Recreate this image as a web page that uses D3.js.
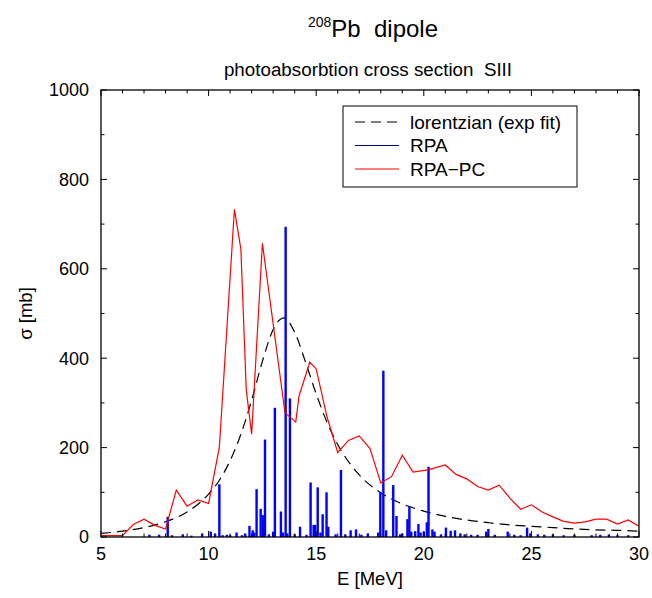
<!DOCTYPE html>
<html>
<head>
<meta charset="utf-8">
<script src="https://cdn.jsdelivr.net/npm/d3@7"></script>
<style>
  html, body { margin: 0; padding: 0; background: #fff; }
  svg { display: block; font-family: "Liberation Sans", Arial, Helvetica, sans-serif; }
</style>
</head>
<body>
<svg id="chart" width="652" height="598"></svg>
<script>
// Lorentzian fit to the strength distribution (mb)
const lorE = [5, 6, 7, 8, 9, 10, 10.5, 11, 11.5, 12, 12.5, 13, 13.5, 14, 14.5, 15, 15.5, 16, 17, 18, 19, 20, 21, 22, 23, 24, 25, 26, 27, 28, 29, 30];
const lorSigma = [8, 13, 21, 34, 56, 96, 127, 171, 230, 306, 393, 464, 490, 458, 392, 320, 257, 207, 139, 99, 74, 58, 46, 38, 32, 27, 24, 21, 18, 16, 15, 13];

// RPA discrete states: energy (MeV) and strength (mb)
const rpaE = [7.25, 7.7, 8.1, 8.3, 8.8, 9.2, 9.7, 10.1, 10.3, 10.5, 10.65, 10.85, 11.0, 11.3, 11.55, 11.7, 11.9, 12.05, 12.12, 12.23, 12.42, 12.52, 12.62, 12.8, 13.0, 13.08, 13.36, 13.45, 13.58, 13.66, 13.78, 14.0, 14.25, 14.55, 14.74, 14.88, 14.95, 15.07, 15.2, 15.3, 15.48, 15.56, 15.9, 16.15, 16.35, 16.6, 16.85, 17.1, 17.4, 17.88, 17.98, 18.12, 18.25, 18.58, 18.73, 18.9, 19.0, 19.24, 19.33, 19.42, 19.6, 19.75, 19.85, 20.0, 20.14, 20.22, 20.4, 20.5, 20.8, 21.03, 21.25, 21.45, 21.7, 21.9, 22.2, 22.5, 22.9, 23.0, 23.3, 23.9, 24.2, 24.5, 24.8, 24.95, 25.3, 25.6, 26.0, 26.5, 27.0, 27.8, 28.2, 28.6, 29.0, 29.5];
const rpaSigma = [5, 5, 45, 4, 6, 3, 8, 12, 8, 118, 4, 5, 4, 10, 4, 8, 25, 15, 10, 107, 63, 49, 218, 6, 12, 289, 57, 10, 694, 8, 310, 6, 23, 5, 122, 27, 27, 111, 10, 51, 100, 23, 6, 150, 6, 15, 17, 5, 8, 10, 100, 372, 15, 116, 47, 6, 8, 40, 69, 12, 13, 29, 10, 12, 33, 157, 17, 12, 6, 21, 14, 15, 8, 6, 5, 5, 12, 18, 5, 12, 5, 4, 21, 8, 6, 5, 6, 4, 5, 4, 5, 6, 4, 4];

// RPA with particle-phonon coupling (mb)
const pcE = [5, 6, 6.5, 7, 7.5, 8, 8.5, 9, 9.5, 10, 10.5, 11.2, 11.5, 11.75, 12.0, 12.5, 13.55, 14.05, 14.2, 14.7, 15.0, 15.5, 16.0, 16.5, 17.0, 17.5, 18.0, 18.5, 19.0, 19.5, 20.2, 21.0, 21.5, 22.0, 22.5, 23.0, 23.5, 24.0, 24.5, 25.0, 25.5, 26.0, 26.5, 27.0, 27.5, 28.0, 28.5, 29.0, 29.5, 30.0];
const pcSigma = [3, 3, 28, 40, 26, 18, 105, 69, 83, 75, 201, 733, 644, 329, 230, 657, 278, 257, 315, 391, 376, 269, 189, 216, 226, 198, 121, 135, 183, 145, 150, 161, 140, 130, 113, 105, 116, 87, 62, 72, 56, 45, 35, 31, 34, 40, 40, 29, 38, 24];

const xTickLabels = [5, 10, 15, 20, 25, 30];
const yTickLabels = [0, 200, 400, 600, 800, 1000];
const legendLabels = ["lorentzian (exp fit)", "RPA", "RPA\u2212PC"];

(function draw() {
  const svg = d3.select("#chart");
  const m = { left: 101, right: 639, top: 90, bottom: 537 };

  const x = d3.scaleLinear().domain([5, 30]).range([m.left, m.right]);
  const y = d3.scaleLinear().domain([0, 1000]).range([m.bottom, m.top]);

  svg.append("defs").append("clipPath").attr("id", "plotClip")
    .append("rect").attr("x", m.left).attr("y", m.top)
    .attr("width", m.right - m.left).attr("height", m.bottom - m.top);

  const plot = svg.append("g").attr("clip-path", "url(#plotClip)");

  // Lorentzian fit (dashed)
  const lorPts = lorE.map((e, i) => [e, lorSigma[i]]);
  plot.append("path")
    .attr("d", d3.line().x(d => x(d[0])).y(d => y(d[1])).curve(d3.curveMonotoneX)(lorPts))
    .attr("fill", "none").attr("stroke", "#000").attr("stroke-width", 1.2)
    .attr("stroke-dasharray", "10,6");

  // RPA strength bars
  plot.selectAll("rect.rpa")
    .data(rpaE.map((e, i) => [e, rpaSigma[i]]))
    .join("rect").attr("class", "rpa")
    .attr("x", d => x(d[0]) - 1.2)
    .attr("width", 2.4)
    .attr("y", d => y(d[1]))
    .attr("height", d => y(0) - y(d[1]))
    .attr("fill", "#0000ff");

  // RPA-PC curve
  const pcPts = pcE.map((e, i) => [e, pcSigma[i]]);
  plot.append("path")
    .attr("d", d3.line().x(d => x(d[0])).y(d => y(d[1]))(pcPts))
    .attr("fill", "none").attr("stroke", "#ff0000").attr("stroke-width", 1.2);

  // Frame
  svg.append("rect").attr("x", m.left).attr("y", m.top)
    .attr("width", m.right - m.left).attr("height", m.bottom - m.top)
    .attr("fill", "none").attr("stroke", "#000").attr("stroke-width", 1.3);

  // Inward ticks on all four sides
  const ticks = svg.append("g").attr("stroke", "#000").attr("stroke-width", 1);
  d3.range(5, 30.001, 1).forEach(e => {
    const len = (e % 5 === 0) ? 6 : 3.5;
    ticks.append("line").attr("x1", x(e)).attr("x2", x(e)).attr("y1", m.bottom).attr("y2", m.bottom - len);
    ticks.append("line").attr("x1", x(e)).attr("x2", x(e)).attr("y1", m.top).attr("y2", m.top + len);
  });
  d3.range(0, 1000.001, 100).forEach(v => {
    const len = (v % 200 === 0) ? 6 : 3.5;
    ticks.append("line").attr("x1", m.left).attr("x2", m.left + len).attr("y1", y(v)).attr("y2", y(v));
    ticks.append("line").attr("x1", m.right).attr("x2", m.right - len).attr("y1", y(v)).attr("y2", y(v));
  });

  // Tick labels
  svg.append("g").selectAll("text").data(xTickLabels).join("text")
    .attr("x", d => x(d)).attr("y", 560)
    .attr("text-anchor", "middle").attr("font-size", 18).attr("fill", "#000")
    .text(d => d);
  svg.append("g").selectAll("text").data(yTickLabels).join("text")
    .attr("x", 89).attr("y", d => y(d)).attr("dy", "0.35em")
    .attr("text-anchor", "end").attr("font-size", 18).attr("fill", "#000")
    .text(d => d);

  // Axis titles
  svg.append("text").attr("x", (m.left + m.right) / 2).attr("y", 585)
    .attr("text-anchor", "middle").attr("font-size", 18.5).text("E [MeV]");
  svg.append("text")
    .attr("transform", `translate(32,${(m.top + m.bottom) / 2}) rotate(-90)`)
    .attr("text-anchor", "middle").attr("font-size", 18.5).text("\u03c3 [mb]");

  // Titles
  const title = svg.append("text").attr("x", 373).attr("y", 37)
    .attr("text-anchor", "middle").attr("font-size", 24);
  title.append("tspan").attr("font-size", 14).attr("dy", -10).text("208");
  title.append("tspan").attr("dy", 10).text("Pb\u00a0\u00a0dipole");

  svg.append("text").attr("x", 368).attr("y", 76)
    .attr("text-anchor", "middle").attr("font-size", 18.8)
    .text("photoabsorbtion cross section\u00a0\u00a0SIII");

  // Legend
  const lg = svg.append("g");
  lg.append("rect").attr("x", 343).attr("y", 106).attr("width", 234).attr("height", 81)
    .attr("fill", "#fff").attr("stroke", "#000").attr("stroke-width", 1);
  const legStyles = [
    { stroke: "#000", dash: "10,6" },
    { stroke: "#00008b", dash: null },
    { stroke: "#ff0000", dash: null }
  ];
  legendLabels.forEach((lab, i) => {
    const yy = 122 + i * 23.5;
    lg.append("line").attr("x1", 355).attr("x2", 399).attr("y1", yy).attr("y2", yy)
      .attr("stroke", legStyles[i].stroke).attr("stroke-width", 1)
      .attr("stroke-dasharray", legStyles[i].dash);
    lg.append("text").attr("x", 410).attr("y", yy).attr("dy", "0.35em")
      .attr("font-size", 19).text(lab);
  });
})();
</script>
</body>
</html>
